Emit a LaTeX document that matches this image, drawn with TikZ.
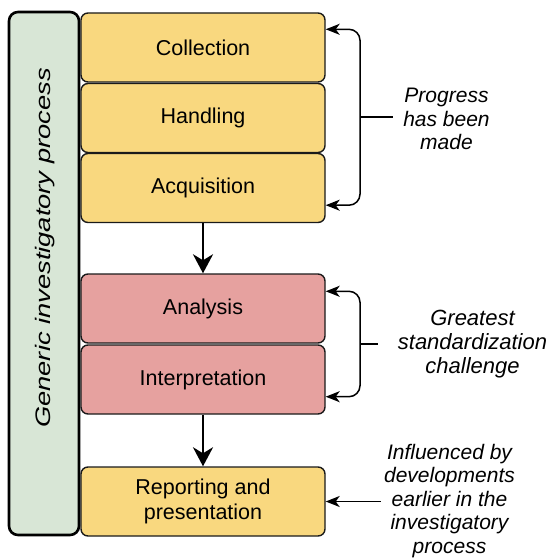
\documentclass[tikz,border=0pt]{standalone}
\usepackage{fontspec}
\setmainfont{Liberation Sans}
\usetikzlibrary{arrows.meta,calc}
\definecolor{boxyellow}{HTML}{F9D87F}
\definecolor{boxpink}{HTML}{E6A19F}
\definecolor{bargreen}{HTML}{D8E6D6}
\definecolor{edge}{HTML}{1A1A1A}
\tikzset{
  stage/.style={draw=edge, line width=1.4pt, rounded corners=7pt,
    minimum width=244pt, minimum height=69pt, align=center, inner sep=0pt,
    font=\fontsize{21.5}{25}\selectfont},
  yel/.style={stage, fill=boxyellow},
  pnk/.style={stage, fill=boxpink},
  label/.style={align=center, inner sep=0pt, font=\fontsize{21}{23.5}\selectfont\itshape},
  bigarr/.style={line width=2.8pt, -{Stealth[length=19pt,width=20pt,inset=6pt]}},
  brk/.style={line width=1.5pt, rounded corners=11pt,
    {Stealth[length=14pt,width=11pt,inset=4pt]}-{Stealth[length=14pt,width=11pt,inset=4pt]}},
  sarr/.style={line width=1.5pt, -{Stealth[length=14pt,width=11pt,inset=4pt]}},
  plain/.style={line width=1.5pt}
}
\begin{document}
\begin{tikzpicture}[x=1pt,y=-1pt]
\useasboundingbox (0,0) rectangle (550,559);
% green bar
\node[draw=black, line width=2.6pt, fill=bargreen, rounded corners=9pt,
  minimum width=70pt, minimum height=523pt, inner sep=0pt] (bar) at (44,273.5) {};
\node[rotate=90, inner sep=0pt, font=\fontsize{21}{25}\selectfont\itshape] (bartext) at (45,248)
  {\scalebox{1.3}[1]{Generic investigatory process}};
% stages
\node[yel] (coll) at (203,47.5) {Collection};
\node[yel] (hand) at (203,118) {Handling};
\node[yel] (acq) at (203,188) {Acquisition};
\node[pnk] (ana) at (203,308.5) {Analysis};
\node[pnk] (int) at (203,379.5) {Interpretation};
\node[yel] (rep) at (203,501.5) {Reporting and\\presentation};
% main arrows
\draw[bigarr] (acq) -- (ana);
\draw[bigarr] (int) -- (rep);
% labels
\node[label] (prog) at (446.5,119) {Progress\\has been\\made};
\node[label, font=\fontsize{22}{24}\selectfont\itshape] (great) at (472.5,344) {Greatest\\standardization\\challenge};
\node[label] (infl) at (449.5,501) {Influenced by\\developments\\earlier in the\\investigatory\\process};
% brackets
\coordinate (s1) at (360,117);
\coordinate (s2) at (360,344);
\draw[brk] ([yshift=-17pt]coll.north east) -| (s1) |- ([yshift=18pt]acq.south east);
\draw[plain] (s1) -- ++(33,0);
\draw[brk] ([yshift=-18pt]ana.north east) -| (s2) |- ([yshift=18pt]int.south east);
\draw[plain] (s2) -- ++(18,0);
\draw[sarr] ([xshift=55pt]rep.east) -- (rep.east);
\end{tikzpicture}
\end{document}
